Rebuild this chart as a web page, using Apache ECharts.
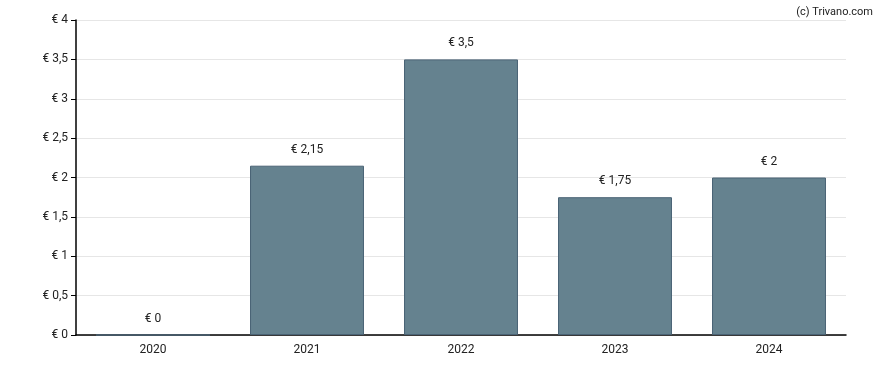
<!DOCTYPE html>
<html><head><meta charset="utf-8">
<script src="https://cdn.jsdelivr.net/npm/echarts@6/dist/echarts.min.js"></script>
<style>html,body{margin:0;padding:0;background:#fff}#c{width:888px;height:370px}</style>
</head><body><div id="c"></div>
<script>
const categories = ['2020','2021','2022','2023','2024'];
const values = [0, 2.15, 3.5, 1.75, 2];
const yTicks = [0, 0.5, 1, 1.5, 2, 2.5, 3, 3.5, 4];
const fmt = v => '€ ' + String(v).replace('.', ',');
const chart = echarts.init(document.getElementById('c'));
chart.setOption({
  animation: false,
  textStyle: {fontFamily: 'Roboto'},
  title: {text: '(c) Trivano.com', right: 10, top: 2, textStyle: {fontSize: 11, fontWeight: 'normal', color: '#222', fontFamily: 'Roboto'}},
  grid: {left: 76, right: 42, top: 20, bottom: 35},
  xAxis: {
    type: 'category', data: categories,
    axisLine: {lineStyle: {color: '#000', width: 1.5}},
    axisTick: {alignWithLabel: true, length: 5, lineStyle: {color: '#000'}},
    axisLabel: {color: '#222', fontSize: 12, margin: 9}
  },
  yAxis: {
    type: 'value', min: yTicks[0], max: yTicks[yTicks.length-1], interval: 0.5,
    axisLine: {show: true, lineStyle: {color: '#000', width: 1.5}},
    axisTick: {show: true, length: 5, lineStyle: {color: '#000'}},
    axisLabel: {color: '#222', fontSize: 12, margin: 8, formatter: fmt},
    splitLine: {lineStyle: {color: '#e6e6e6'}}
  },
  series: [{
    type: 'bar', data: values, barWidth: '74%',
    itemStyle: {color: '#65828f', borderColor: '#4a6375', borderWidth: 1},
    label: {show: true, position: 'top', distance: 10, color: '#222', fontSize: 12, formatter: p => fmt(p.value)}
  }]
});
</script></body></html>
